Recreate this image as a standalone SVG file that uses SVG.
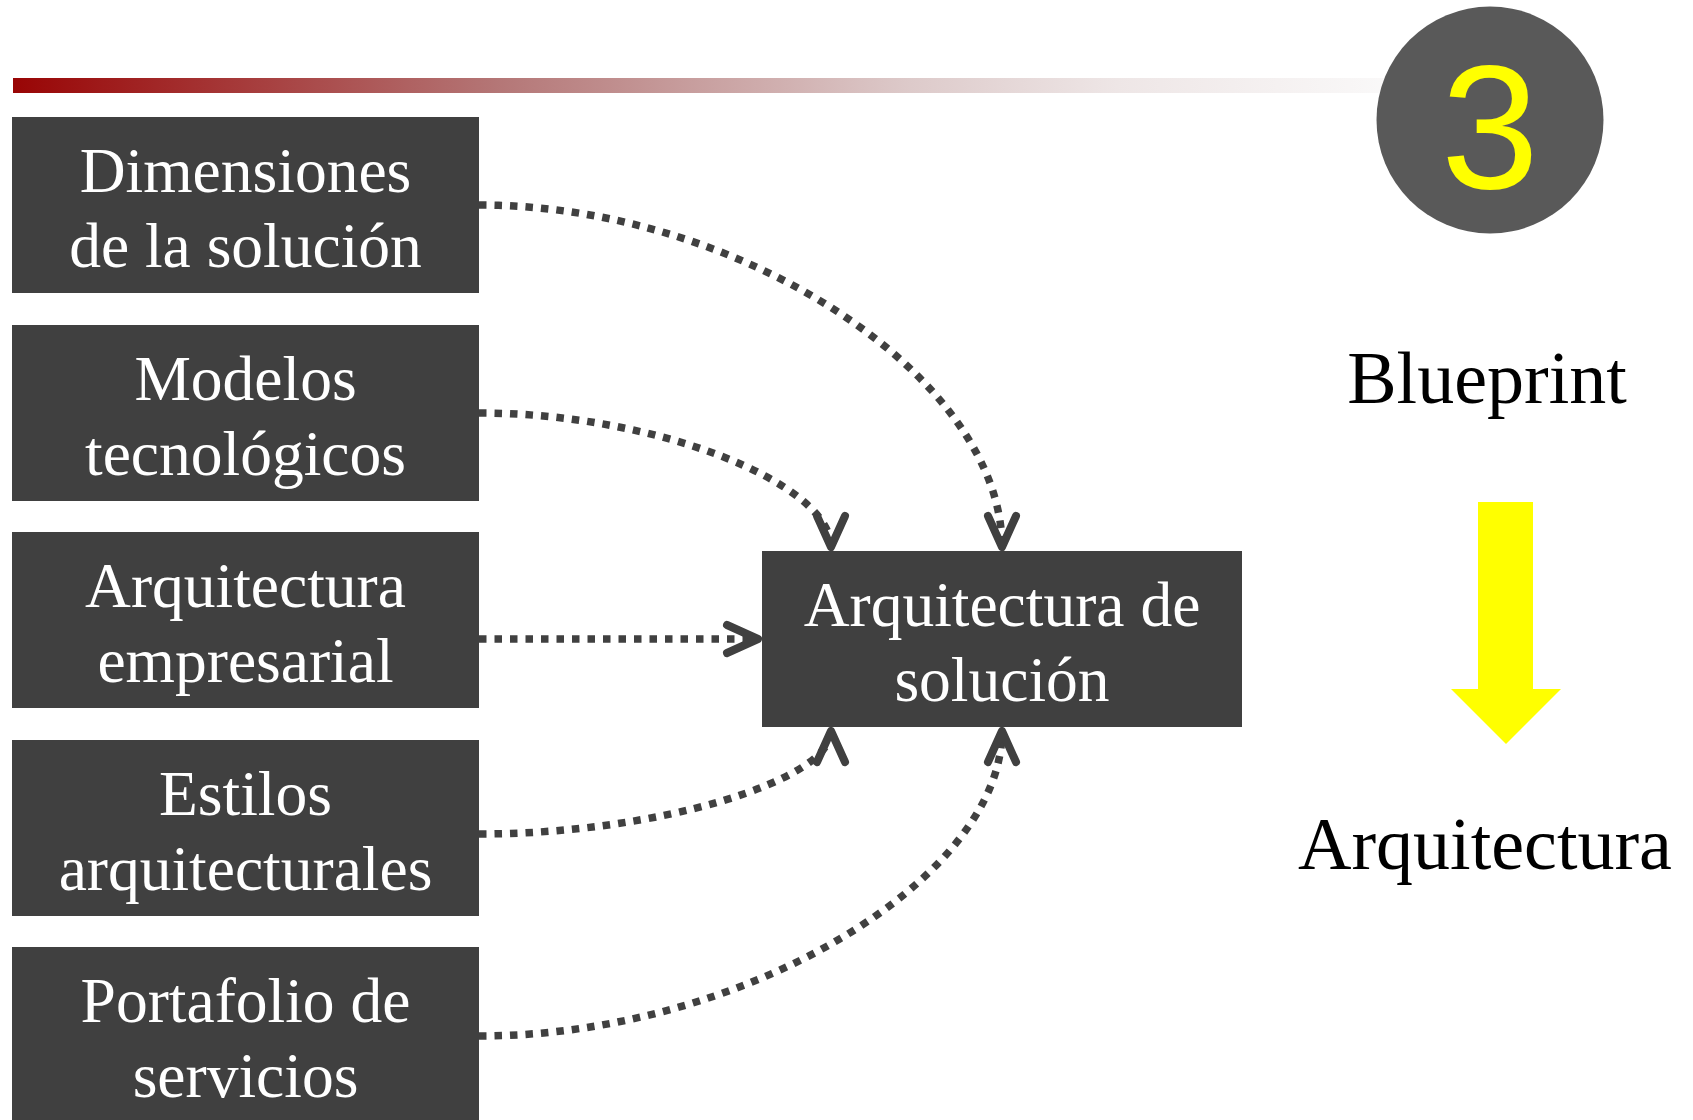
<svg xmlns="http://www.w3.org/2000/svg" width="1693" height="1120" viewBox="0 0 1693 1120">
<style>
.box{fill:#404040;}
.bt{font-family:"Liberation Serif","Times New Roman",serif;font-size:63.5px;fill:#FFFFFF;text-anchor:middle;}
.rt{font-family:"Liberation Serif","Times New Roman",serif;font-size:74px;fill:#000000;text-anchor:middle;}
.con{fill:none;stroke:#404040;stroke-width:7.5;stroke-dasharray:7.5 8;marker-end:url(#arr);}
</style>
<defs>
<linearGradient id="bar" x1="0" y1="0" x2="1" y2="0">
<stop offset="0" stop-color="#990505"/>
<stop offset="0.35" stop-color="#B47676"/>
<stop offset="0.65" stop-color="#DDCACA"/>
<stop offset="0.8" stop-color="#EEE6E6"/>
<stop offset="1" stop-color="#FAF9F9"/>
</linearGradient>
<marker id="arr" markerUnits="userSpaceOnUse" markerWidth="60" markerHeight="60" refX="40" refY="30" orient="auto" viewBox="0 0 60 60">
<path d="M9 16 L40 30 L9 44" fill="none" stroke="#404040" stroke-width="8" stroke-linecap="round" stroke-linejoin="round"/>
</marker>
</defs>
<rect x="13" y="78" width="1380" height="15" fill="url(#bar)"/>
<g id="badge">
<circle cx="1490" cy="120" r="113.5" fill="#595959"/>
<text x="1490" y="188" font-family="Liberation Sans, Arial, sans-serif" font-size="176" fill="#FFFF00" text-anchor="middle">3</text>
</g>
<g id="connectors">
<path class="con" d="M479 205 C740 205 1002 377 1002 547"/>
<path class="con" d="M479 413 C655 413 831 483 831 547"/>
<path class="con" d="M479 639 L758 639"/>
<path class="con" d="M479 834 C655 834 831 781 831 731"/>
<path class="con" d="M479 1036 C740 1036 1002 881 1002 731"/>
</g>
<g id="n1"><rect class="box" x="12" y="117" width="467" height="176"/>
<text class="bt" x="245.5" y="192">Dimensiones</text><text class="bt" x="245.5" y="267">de la solución</text></g>
<g id="n2"><rect class="box" x="12" y="325" width="467" height="176"/>
<text class="bt" x="245.5" y="400">Modelos</text><text class="bt" x="245.5" y="475">tecnológicos</text></g>
<g id="n3"><rect class="box" x="12" y="532" width="467" height="176"/>
<text class="bt" x="245.5" y="607">Arquitectura</text><text class="bt" x="245.5" y="682">empresarial</text></g>
<g id="n4"><rect class="box" x="12" y="740" width="467" height="176"/>
<text class="bt" x="245.5" y="815">Estilos</text><text class="bt" x="245.5" y="890">arquitecturales</text></g>
<g id="n5"><rect class="box" x="12" y="947" width="467" height="180"/>
<text class="bt" x="245.5" y="1022">Portafolio de</text><text class="bt" x="245.5" y="1097">servicios</text></g>
<g id="center"><rect class="box" x="762" y="551" width="480" height="176"/>
<text class="bt" x="1002" y="626">Arquitectura de</text><text class="bt" x="1002" y="701">solución</text></g>
<g id="blueprint"><text class="rt" x="1487" y="403">Blueprint</text></g>
<g id="yarrow"><polygon points="1478,502 1533,502 1533,689 1561,689 1506,744 1451,689 1478,689" fill="#FFFF00"/></g>
<g id="arq"><text class="rt" x="1485" y="869">Arquitectura</text></g>
</svg>
